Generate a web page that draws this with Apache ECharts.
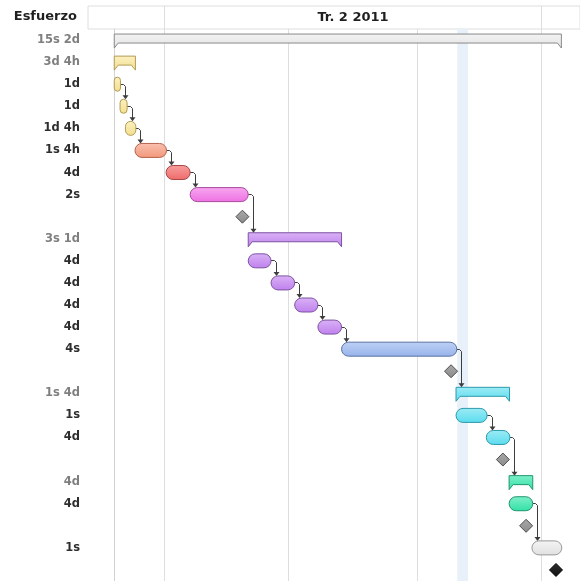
<!DOCTYPE html>
<html>
<head>
<meta charset="utf-8">
<script src="https://cdn.jsdelivr.net/npm/echarts@6/dist/echarts.min.js"></script>
<style>
  html, body { margin: 0; padding: 0; background: #ffffff; }
  #chart { width: 580px; height: 581px; }
</style>
</head>
<body>
<div id="chart"></div>
<script>
// ---- Calendar (days are counted from the project start) ----
const projectStart = '2011-03-20';
const monthStarts = ['2011-04-01', '2011-05-01', '2011-06-01', '2011-07-01'];
const quarterLabel = 'Tr. 2 2011';
const quarterSpan = ['2011-04-01', '2011-07-01'];
const highlightDays = [82.7, 85.3];

// ---- Outline rows ----
const effortLabels = ['15s 2d', '3d 4h', '1d', '1d', '1d 4h', '1s 4h', '4d', '2s', '',
  '3s 1d', '4d', '4d', '4d', '4d', '4s', '', '1s 4d', '1s', '4d', '', '4d', '4d', '', '1s', ''];
const rowKinds = ['summary', 'summary', 'task', 'task', 'task', 'task', 'task', 'task', 'milestone',
  'summary', 'task', 'task', 'task', 'task', 'task', 'milestone', 'summary', 'task', 'task', 'milestone',
  'summary', 'task', 'milestone', 'task', 'milestone'];
const rowGroups = ['total', 'amarillo', 'amarillo', 'amarillo', 'amarillo', 'salmon', 'rojo', 'rosa', 'hito',
  'morado', 'morado', 'morado', 'morado', 'morado', 'azul', 'hito', 'cian', 'cian', 'cian', 'hito',
  'verde', 'verde', 'hito', 'gris', 'fin'];
const startDays = [0, 0, 0, 1.4, 2.7, 5.0, 12.5, 18.3, 30.9, 32.3, 32.3, 37.8, 43.5, 49.1, 54.8, 81.2,
  82.4, 82.4, 89.7, 93.7, 95.2, 95.2, 99.3, 100.7, 106.5];
const endDays = [107.8, 5.1, 1.5, 3.1, 5.2, 12.6, 18.3, 32.3, 30.9, 54.8, 37.8, 43.5, 49.1, 54.8, 82.6, 81.2,
  95.3, 89.9, 95.4, 93.7, 100.9, 100.9, 99.3, 107.9, 106.5];

// ---- Dependencies: predecessor row -> successor row ----
const linkFrom = [2, 3, 4, 5, 6, 7, 10, 11, 12, 13, 14, 17, 18, 21];
const linkTo = [3, 4, 5, 6, 7, 9, 11, 12, 13, 14, 16, 18, 20, 23];

// ---- Styling ----
const palette = {
  total:    { fill: '#e3e3e3', top: '#f3f3f3', stroke: '#8a8a8a' },
  amarillo: { fill: '#f4df8c', top: '#fbf0c2', stroke: '#b39c55' },
  salmon:   { fill: '#f3977c', top: '#f9c1ae', stroke: '#b6634d' },
  rojo:     { fill: '#ef6a6a', top: '#f79f9f', stroke: '#a64646' },
  rosa:     { fill: '#ee70e2', top: '#f7a8f0', stroke: '#a54b9c' },
  morado:   { fill: '#bf80ed', top: '#dab2f6', stroke: '#7c53a1' },
  azul:     { fill: '#98b3eb', top: '#bed1f5', stroke: '#5a73a3' },
  cian:     { fill: '#5adbed', top: '#9decf6', stroke: '#2d9aab' },
  verde:    { fill: '#30e0a5', top: '#80f0c9', stroke: '#21966d' },
  gris:     { fill: '#e0e0e0', top: '#f4f4f4', stroke: '#999999' },
  hito:     { fill: '#8a8a8a', top: '#a9a9a9', stroke: '#4e4e4e' },
  fin:      { fill: '#111111', top: '#2e2e2e', stroke: '#000000' }
};
const FONT = 'DejaVu Sans';
const gridLine = '#dedede';

const DAY = 86400000;
const toDay = d => (Date.parse(d) - Date.parse(projectStart)) / DAY;
const crisp = v => Math.round(v - 0.5) + 0.5;
const axisMin = -6.33, axisMax = 112.29;

function fillOf(c) {
  return new echarts.graphic.LinearGradient(0, 0, 0, 1, [
    { offset: 0, color: c.top }, { offset: 1, color: c.fill }
  ]);
}

// Task bars, summary brackets and milestones
function renderRow(params, api) {
  const i = api.value(2);
  const kind = rowKinds[i];
  const c = palette[rowGroups[i]];
  const p0 = api.coord([api.value(0), i]);
  const p1 = api.coord([api.value(1), i]);
  const yc = p0[1];
  if (kind === 'milestone') {
    const x = p0[0], r = 6.5;
    return {
      type: 'polygon',
      shape: { points: [[x, yc - r], [x + r, yc], [x, yc + r], [x - r, yc]] },
      style: { fill: fillOf(c), stroke: c.stroke, lineWidth: 1 }
    };
  }
  if (kind === 'summary') {
    const x0 = p0[0], x1 = p1[0];
    const inset = Math.min(4, (x1 - x0) / 4);
    const top = yc - 6, mid = yc + 3, tip = yc + 8;
    return {
      type: 'polygon',
      shape: { points: [[x0, top], [x1, top], [x1, tip], [x1 - inset, mid], [x0 + inset, mid], [x0, tip]] },
      style: { fill: fillOf(c), stroke: c.stroke, lineWidth: 1 }
    };
  }
  return {
    type: 'rect',
    shape: { x: p0[0], y: yc - 7, width: p1[0] - p0[0], height: 14, r: 7 },
    style: { fill: fillOf(c), stroke: c.stroke, lineWidth: 1 }
  };
}

// Dependency connectors: out of the predecessor's end, then down onto the successor
function renderLink(params, api) {
  const from = api.value(1), to = api.value(2);
  const a = api.coord([api.value(0), from]);
  const xv = crisp(a[0] + 5);
  const targetTop = api.coord([0, to])[1] - (rowKinds[to] === 'summary' ? 6 : 7);
  const stroke = '#3d3d3d';
  return {
    type: 'group',
    children: [
      {
        type: 'polyline',
        shape: { points: [[a[0], crisp(a[1])], [xv - 2, crisp(a[1])], [xv, crisp(a[1]) + 2], [xv, targetTop - 3]] },
        style: { stroke: stroke, lineWidth: 1, fill: null }
      },
      {
        type: 'polygon',
        shape: { points: [[xv - 3, targetTop - 4], [xv + 3, targetTop - 4], [xv, targetTop]] },
        style: { fill: stroke }
      }
    ]
  };
}

// Month boundaries through the timeline body
function renderMonthLine(params, api) {
  const cs = params.coordSys;
  const x = crisp(api.coord([api.value(0), 0])[0]);
  return {
    type: 'line',
    shape: { x1: x, y1: cs.y, x2: x, y2: cs.y + cs.height },
    style: { stroke: gridLine, lineWidth: 1 }
  };
}

// Highlighted day band
function renderBand(params, api) {
  const cs = params.coordSys;
  const x0 = api.coord([api.value(0), 0])[0];
  const x1 = api.coord([api.value(1), 0])[0];
  return {
    type: 'rect',
    shape: { x: x0, y: cs.y, width: x1 - x0, height: cs.height },
    style: { fill: '#e8f0fa' }
  };
}

// Quarter heading with its boundaries
function renderQuarter(params, api) {
  const cs = params.coordSys;
  const x0 = crisp(api.coord([api.value(0), 0.5])[0]);
  const x1 = crisp(api.coord([api.value(1), 0.5])[0]);
  return {
    type: 'group',
    children: [
      { type: 'line', shape: { x1: x0, y1: cs.y, x2: x0, y2: cs.y + cs.height }, style: { stroke: gridLine, lineWidth: 1 } },
      { type: 'line', shape: { x1: x1, y1: cs.y, x2: x1, y2: cs.y + cs.height }, style: { stroke: gridLine, lineWidth: 1 } },
      {
        type: 'text',
        style: {
          text: quarterLabel, x: (x0 + x1) / 2, y: cs.y + cs.height / 2 + 0.5,
          align: 'center', verticalAlign: 'middle',
          font: 'bold 13px "' + FONT + '"', fill: '#1f1f1f'
        }
      }
    ]
  };
}

const rowData = startDays.map((s, i) => [s, endDays[i], i]);
const linkData = linkFrom.map((f, k) => [endDays[f], f, linkTo[k]]);
const monthData = monthStarts.map(d => [toDay(d)]);

const chart = echarts.init(document.getElementById('chart'), null, { renderer: 'canvas' });
chart.setOption({
  animation: false,
  backgroundColor: '#ffffff',
  graphic: [{
    type: 'text',
    right: 503,
    top: 10,
    style: { text: 'Esfuerzo', font: 'bold 13px "' + FONT + '"', fill: '#1f1f1f' }
  }],
  grid: [
    { left: 88, right: -1, top: 6, height: 23, show: true, borderColor: gridLine, borderWidth: 1, backgroundColor: 'transparent' },
    { left: 88, right: 0, top: 29, height: 552.5 }
  ],
  xAxis: [
    { gridIndex: 0, type: 'value', min: axisMin, max: axisMax, show: false },
    { gridIndex: 1, type: 'value', min: axisMin, max: axisMax, show: false }
  ],
  yAxis: [
    { gridIndex: 0, type: 'value', min: 0, max: 1, show: false },
    {
      gridIndex: 1,
      type: 'category',
      inverse: true,
      data: effortLabels,
      axisLine: { show: true, lineStyle: { color: '#d2d2d2', width: 1 } },
      axisTick: { show: false },
      splitLine: { show: false },
      axisLabel: {
        interval: 0,
        margin: 8,
        formatter: (v, idx) => v === '' ? '' : (rowKinds[idx] === 'summary' ? '{s|' + v + '}' : '{t|' + v + '}'),
        rich: {
          s: { fontFamily: FONT, fontWeight: 'bold', fontSize: 11.5, color: '#7f7f7f' },
          t: { fontFamily: FONT, fontWeight: 'bold', fontSize: 11.5, color: '#2e2e2e' }
        }
      }
    }
  ],
  series: [
    {
      type: 'custom', xAxisIndex: 0, yAxisIndex: 0, renderItem: renderQuarter,
      data: [[toDay(quarterSpan[0]), toDay(quarterSpan[1])]], encode: { x: [0, 1] }, silent: true, z: 2
    },
    {
      type: 'custom', xAxisIndex: 1, yAxisIndex: 1, renderItem: renderBand,
      data: [highlightDays], encode: { x: [0, 1] }, silent: true, z: 1
    },
    {
      type: 'custom', xAxisIndex: 1, yAxisIndex: 1, renderItem: renderMonthLine,
      data: monthData, encode: { x: 0 }, silent: true, z: 2
    },
    {
      type: 'custom', xAxisIndex: 1, yAxisIndex: 1, renderItem: renderLink,
      data: linkData, encode: { x: 0, y: 1 }, silent: true, z: 3
    },
    {
      type: 'custom', xAxisIndex: 1, yAxisIndex: 1, renderItem: renderRow,
      data: rowData, encode: { x: [0, 1], y: 2 }, silent: true, z: 4
    }
  ]
});
</script>
</body>
</html>
